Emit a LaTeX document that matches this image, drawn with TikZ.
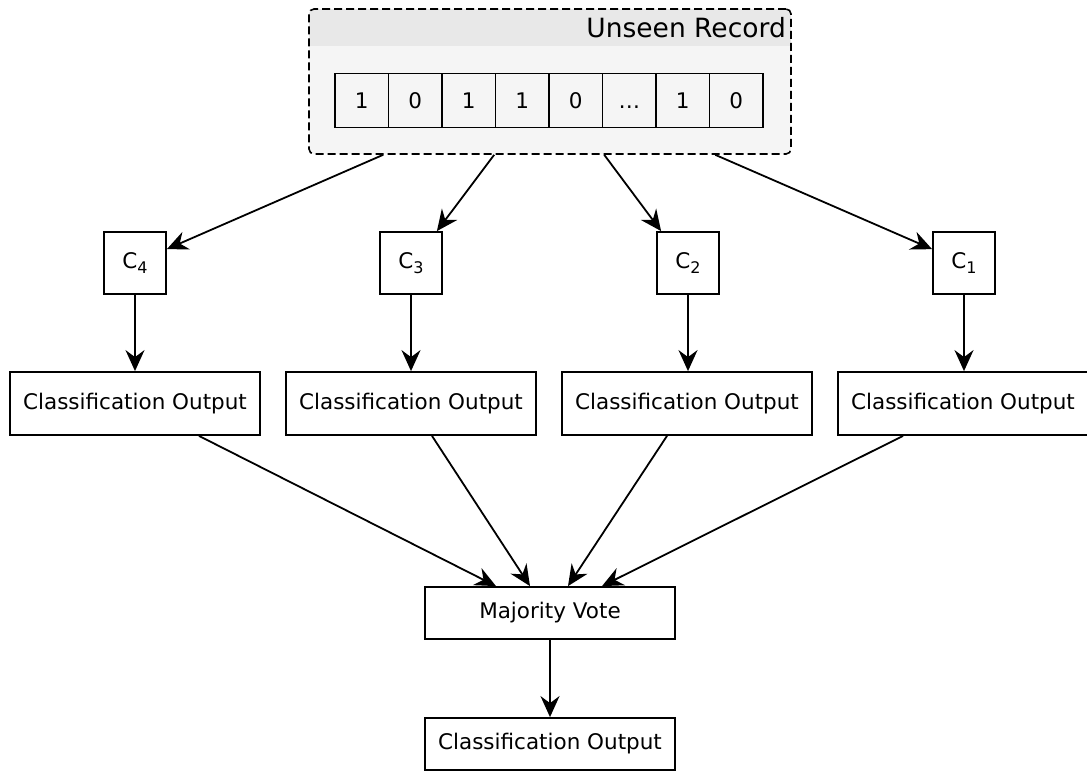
\documentclass[tikz,border=0pt]{standalone}
\usepackage{fontspec}
\setmainfont{DejaVu Sans}
\usetikzlibrary{arrows.meta,calc}
\definecolor{panelbg}{HTML}{F5F5F5}
\definecolor{headbg}{HTML}{E8E8E8}
\newcommand{\clfname}[1]{C\raisebox{-5pt}{\fontsize{16}{18}\selectfont #1}}
\newcommand{\gapdots}{\ldots}
\tikzset{
  lbl/.style={font=\fontsize{21.5}{25}\selectfont},
  box/.style={draw, line width=1.8pt, fill=white, lbl, inner sep=0pt, anchor=center},
  cell/.style={box, fill=panelbg, minimum width=53.5pt, minimum height=54pt, text height=15.5pt, text depth=0pt},
  clf/.style={box, minimum width=62pt, minimum height=62pt},
  outbox/.style={box, minimum width=250pt, minimum height=63pt},
  wide/.style={box, minimum width=250pt, minimum height=52pt},
  arr/.style={line width=1.8pt, -{Stealth[length=21pt,width=19pt,inset=7pt]}},
}
\begin{document}
\begin{tikzpicture}[x=1pt,y=-1pt]
\useasboundingbox (0,0) rectangle (1087,771);

% input record panel
\fill[panelbg, rounded corners=5pt] (309,9) rectangle (791,154);
\fill[headbg, rounded corners=5pt] (309,9) rectangle (791,30);
\fill[headbg] (309,25) rectangle (791,46);
\node[rectangle, draw, dash pattern=on 8pt off 4pt, line width=1.6pt, rounded corners=5pt, minimum width=482pt, minimum height=145pt, inner sep=0pt] (rec) at (550,81.5) {};
\node[anchor=east, font=\fontsize{26.5}{30}\selectfont, inner sep=0pt] (rtitle) at (786,28) {Unseen Record};

% bit vector
\foreach \v [count=\i from 0] in {1,0,1,1,0,\gapdots,1,0} {
  \node[cell] (b\i) at ({335+53.5*(\i+0.5)},100.5) {\v};
}

% classifiers
\node[clf] (c4) at (135,263) {\clfname{4}};
\node[clf] (c3) at (411,263) {\clfname{3}};
\node[clf] (c2) at (688,263) {\clfname{2}};
\node[clf] (c1) at (964,263) {\clfname{1}};

% per-classifier outputs
\node[outbox] (o4) at (135,403.5) {Classification Output};
\node[outbox] (o3) at (411,403.5) {Classification Output};
\node[outbox] (o2) at (687,403.5) {Classification Output};
\node[outbox] (o1) at (963,403.5) {Classification Output};

% voting and final result
\node[wide] (mv) at (550,613) {Majority Vote};
\node[wide] (fin) at (550,744) {Classification Output};

% fan-out from the record
\coordinate (r4) at ($(rec.south west)+(75,0)$);
\coordinate (r3) at ($(rec.south west)+(186,0)$);
\coordinate (r2) at ($(rec.south west)+(296,0)$);
\coordinate (r1) at ($(rec.south west)+(407,0)$);
\draw[arr] (r4) -- (c4);
\draw[arr] (r3) -- ($(c3.north east)+(-6,0)$);
\draw[arr] (r2) -- ($(c2.north west)+(5,0)$);
\draw[arr] (r1) -- (c1);

% classifier to output
\foreach \k in {1,2,3,4} {
  \draw[arr] (c\k) -- (c\k |- o\k.north);
}

% outputs into the vote
\draw[arr] ($(o4.south)+(64,0)$) -- ($(mv.north)+(-54,0)$);
\draw[arr] ($(o3.south)+(21,0)$) -- ($(mv.north)+(-20,0)$);
\draw[arr] ($(o2.south)+(-20,0)$) -- ($(mv.north)+(18,0)$);
\draw[arr] ($(o1.south)+(-60,0)$) -- ($(mv.north)+(52,0)$);

\draw[arr] (mv) -- (fin);
\end{tikzpicture}
\end{document}
